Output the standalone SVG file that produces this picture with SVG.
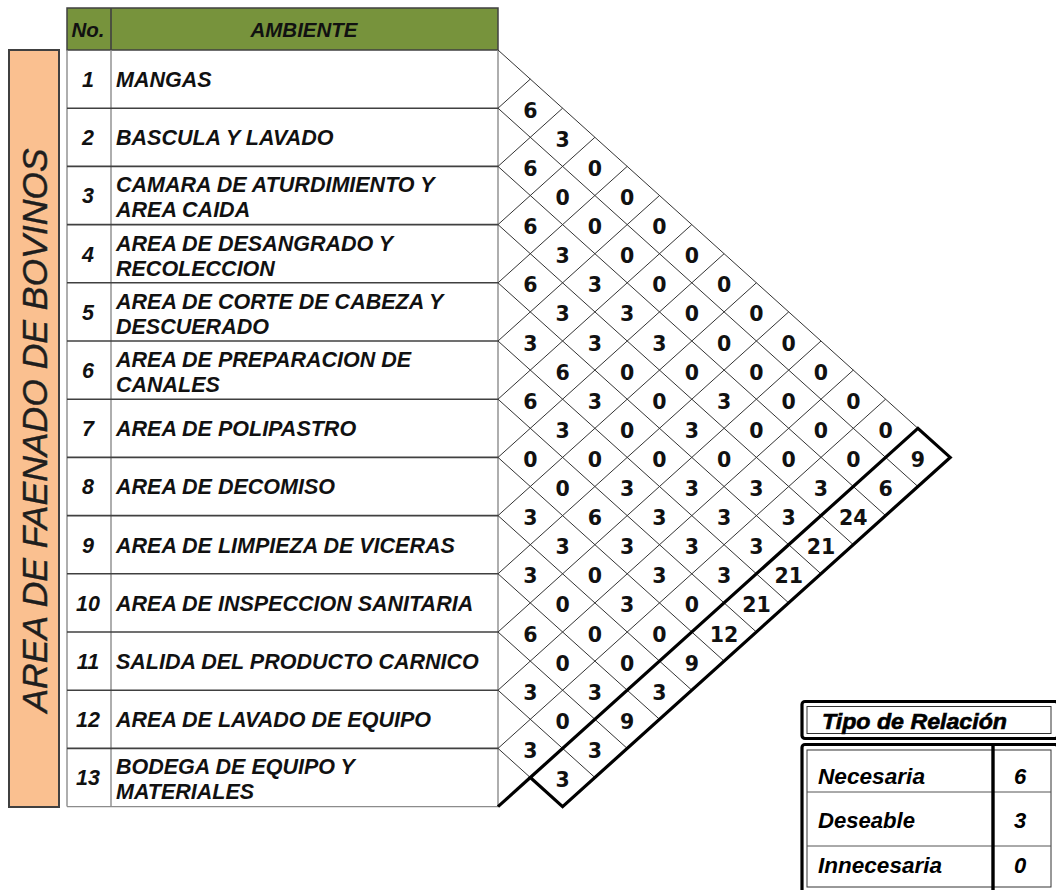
<svg xmlns="http://www.w3.org/2000/svg" width="1056" height="890" viewBox="0 0 1056 890">
<style>
.tx{font-family:"Liberation Sans",Arial,sans-serif;font-weight:bold;font-style:italic;font-size:21.5px;fill:#111}
.no{text-anchor:middle}
.hd{font-family:"Liberation Sans",Arial,sans-serif;font-weight:bold;font-style:italic;font-size:20.5px;fill:#111;text-anchor:middle}
.v{font-family:"DejaVu Sans","Liberation Sans",sans-serif;font-weight:bold;font-size:20.5px;fill:#111;text-anchor:middle}
.hl{stroke:#404040;stroke-width:1.6}
.vl{stroke:#8c8c8c;stroke-width:1.4}
.g{stroke:#333;stroke-width:1;fill:none}
.tk{stroke:#000;stroke-width:3.2;fill:none;stroke-linejoin:miter}
.lg{font-family:"Liberation Sans",Arial,sans-serif;font-weight:bold;font-style:italic;fill:#000}
</style>

<g id="area-label">
<rect x="9" y="50" width="50" height="757" fill="#FAC090" stroke="#404040" stroke-width="2"/>
<text transform="translate(46.5,430.5) rotate(-90)" text-anchor="middle" font-family="'Liberation Sans',Arial,sans-serif" font-style="italic" font-size="35.5" fill="#1e1e1e" stroke="#1e1e1e" stroke-width="0.4">AREA DE FAENADO DE BOVINOS</text>
</g>

<g id="table-header">
<rect x="67" y="8" width="431" height="42" fill="#77933C" stroke="#404040" stroke-width="1.5"/>
<line x1="111" y1="8" x2="111" y2="50" class="hl"/>
<text x="88" y="36.5" class="hd">No.</text>
<text x="304" y="36.5" class="hd">AMBIENTE</text>
</g>

<g id="table-frame">
<line x1="67" y1="50" x2="67" y2="806.6" class="vl"/>
<line x1="111" y1="50" x2="111" y2="806.6" class="vl"/>
<line x1="498" y1="50" x2="498" y2="806.6" class="vl"/>
<line x1="67" y1="108.2" x2="498" y2="108.2" class="hl"/>
<line x1="67" y1="166.4" x2="498" y2="166.4" class="hl"/>
<line x1="67" y1="224.6" x2="498" y2="224.6" class="hl"/>
<line x1="67" y1="282.8" x2="498" y2="282.8" class="hl"/>
<line x1="67" y1="341" x2="498" y2="341" class="hl"/>
<line x1="67" y1="399.2" x2="498" y2="399.2" class="hl"/>
<line x1="67" y1="457.4" x2="498" y2="457.4" class="hl"/>
<line x1="67" y1="515.6" x2="498" y2="515.6" class="hl"/>
<line x1="67" y1="573.8" x2="498" y2="573.8" class="hl"/>
<line x1="67" y1="632" x2="498" y2="632" class="hl"/>
<line x1="67" y1="690.2" x2="498" y2="690.2" class="hl"/>
<line x1="67" y1="748.4" x2="498" y2="748.4" class="hl"/>
<line x1="67" y1="806.6" x2="498" y2="806.6" class="vl"/>
</g>

<g id="row-1"><text x="88" y="87" class="tx no">1</text><text x="116" y="87" class="tx">MANGAS</text></g>
<g id="row-2"><text x="88" y="145.2" class="tx no">2</text><text x="116" y="145.2" class="tx">BASCULA Y LAVADO</text></g>
<g id="row-3"><text x="88" y="203.4" class="tx no">3</text><text x="116" y="192.4" class="tx">CAMARA DE ATURDIMIENTO Y</text><text x="116" y="217.4" class="tx">AREA CAIDA</text></g>
<g id="row-4"><text x="88" y="261.6" class="tx no">4</text><text x="116" y="250.6" class="tx">AREA DE DESANGRADO Y</text><text x="116" y="275.6" class="tx">RECOLECCION</text></g>
<g id="row-5"><text x="88" y="319.8" class="tx no">5</text><text x="116" y="308.8" class="tx">AREA DE CORTE DE CABEZA Y</text><text x="116" y="333.8" class="tx">DESCUERADO</text></g>
<g id="row-6"><text x="88" y="378" class="tx no">6</text><text x="116" y="367" class="tx">AREA DE PREPARACION DE</text><text x="116" y="392" class="tx">CANALES</text></g>
<g id="row-7"><text x="88" y="436.2" class="tx no">7</text><text x="116" y="436.2" class="tx">AREA DE POLIPASTRO</text></g>
<g id="row-8"><text x="88" y="494.4" class="tx no">8</text><text x="116" y="494.4" class="tx">AREA DE DECOMISO</text></g>
<g id="row-9"><text x="88" y="552.6" class="tx no">9</text><text x="116" y="552.6" class="tx">AREA DE LIMPIEZA DE VICERAS</text></g>
<g id="row-10"><text x="88" y="610.8" class="tx no">10</text><text x="116" y="610.8" class="tx">AREA DE INSPECCION SANITARIA</text></g>
<g id="row-11"><text x="88" y="669" class="tx no">11</text><text x="116" y="669" class="tx">SALIDA DEL PRODUCTO CARNICO</text></g>
<g id="row-12"><text x="88" y="727.2" class="tx no">12</text><text x="116" y="727.2" class="tx">AREA DE LAVADO DE EQUIPO</text></g>
<g id="row-13"><text x="88" y="785.4" class="tx no">13</text><text x="116" y="774.4" class="tx">BODEGA DE EQUIPO Y</text><text x="116" y="799.4" class="tx">MATERIALES</text></g>

<g id="connectors">
<g id="grid-down">
<line x1="498" y1="50" x2="917.9" y2="428.3" class="g"/>
<line x1="498" y1="108.2" x2="917.9" y2="486.5" class="g"/>
<line x1="498" y1="166.4" x2="885.6" y2="515.6" class="g"/>
<line x1="498" y1="224.6" x2="853.3" y2="544.7" class="g"/>
<line x1="498" y1="282.8" x2="821" y2="573.8" class="g"/>
<line x1="498" y1="341" x2="788.7" y2="602.9" class="g"/>
<line x1="498" y1="399.2" x2="756.4" y2="632" class="g"/>
<line x1="498" y1="457.4" x2="724.1" y2="661.1" class="g"/>
<line x1="498" y1="515.6" x2="691.8" y2="690.2" class="g"/>
<line x1="498" y1="573.8" x2="659.5" y2="719.3" class="g"/>
<line x1="498" y1="632" x2="627.2" y2="748.4" class="g"/>
<line x1="498" y1="690.2" x2="594.9" y2="777.5" class="g"/>
<line x1="498" y1="748.4" x2="530.3" y2="777.5" class="g"/>
</g>
<g id="grid-up">
<line x1="498" y1="108.2" x2="530.3" y2="79.1" class="g"/>
<line x1="498" y1="166.4" x2="562.6" y2="108.2" class="g"/>
<line x1="498" y1="224.6" x2="594.9" y2="137.3" class="g"/>
<line x1="498" y1="282.8" x2="627.2" y2="166.4" class="g"/>
<line x1="498" y1="341" x2="659.5" y2="195.5" class="g"/>
<line x1="498" y1="399.2" x2="691.8" y2="224.6" class="g"/>
<line x1="498" y1="457.4" x2="724.1" y2="253.7" class="g"/>
<line x1="498" y1="515.6" x2="756.4" y2="282.8" class="g"/>
<line x1="498" y1="573.8" x2="788.7" y2="311.9" class="g"/>
<line x1="498" y1="632" x2="821" y2="341" class="g"/>
<line x1="498" y1="690.2" x2="853.3" y2="370.1" class="g"/>
<line x1="498" y1="748.4" x2="885.6" y2="399.2" class="g"/>
</g>
<g id="total-strip">
<polygon points="530.3,777.5 917.9,428.3 950.2,457.4 562.6,806.6" class="tk"/>
<line x1="498" y1="806.6" x2="530.3" y2="777.5" class="tk"/>
</g>
</g>

<g id="matrix-values">
<text x="530.3" y="117.7" class="v">6</text>
<text x="562.6" y="146.8" class="v">3</text>
<text x="530.3" y="175.9" class="v">6</text><text x="594.9" y="175.9" class="v">0</text>
<text x="562.6" y="205" class="v">0</text><text x="627.2" y="205" class="v">0</text>
<text x="530.3" y="234.1" class="v">6</text><text x="594.9" y="234.1" class="v">0</text><text x="659.5" y="234.1" class="v">0</text>
<text x="562.6" y="263.2" class="v">3</text><text x="627.2" y="263.2" class="v">0</text><text x="691.8" y="263.2" class="v">0</text>
<text x="530.3" y="292.3" class="v">6</text><text x="594.9" y="292.3" class="v">3</text><text x="659.5" y="292.3" class="v">0</text><text x="724.1" y="292.3" class="v">0</text>
<text x="562.6" y="321.4" class="v">3</text><text x="627.2" y="321.4" class="v">3</text><text x="691.8" y="321.4" class="v">0</text><text x="756.4" y="321.4" class="v">0</text>
<text x="530.3" y="350.5" class="v">3</text><text x="594.9" y="350.5" class="v">3</text><text x="659.5" y="350.5" class="v">3</text><text x="724.1" y="350.5" class="v">0</text><text x="788.7" y="350.5" class="v">0</text>
<text x="562.6" y="379.6" class="v">6</text><text x="627.2" y="379.6" class="v">0</text><text x="691.8" y="379.6" class="v">0</text><text x="756.4" y="379.6" class="v">0</text><text x="821" y="379.6" class="v">0</text>
<text x="530.3" y="408.7" class="v">6</text><text x="594.9" y="408.7" class="v">3</text><text x="659.5" y="408.7" class="v">0</text><text x="724.1" y="408.7" class="v">3</text><text x="788.7" y="408.7" class="v">0</text><text x="853.3" y="408.7" class="v">0</text>
<text x="562.6" y="437.8" class="v">3</text><text x="627.2" y="437.8" class="v">0</text><text x="691.8" y="437.8" class="v">3</text><text x="756.4" y="437.8" class="v">0</text><text x="821" y="437.8" class="v">0</text><text x="885.6" y="437.8" class="v">0</text>
<text x="530.3" y="466.9" class="v">0</text><text x="594.9" y="466.9" class="v">0</text><text x="659.5" y="466.9" class="v">0</text><text x="724.1" y="466.9" class="v">0</text><text x="788.7" y="466.9" class="v">0</text><text x="853.3" y="466.9" class="v">0</text>
<text x="562.6" y="496" class="v">0</text><text x="627.2" y="496" class="v">3</text><text x="691.8" y="496" class="v">3</text><text x="756.4" y="496" class="v">3</text><text x="821" y="496" class="v">3</text>
<text x="530.3" y="525.1" class="v">3</text><text x="594.9" y="525.1" class="v">6</text><text x="659.5" y="525.1" class="v">3</text><text x="724.1" y="525.1" class="v">3</text><text x="788.7" y="525.1" class="v">3</text>
<text x="562.6" y="554.2" class="v">3</text><text x="627.2" y="554.2" class="v">3</text><text x="691.8" y="554.2" class="v">3</text><text x="756.4" y="554.2" class="v">3</text>
<text x="530.3" y="583.3" class="v">3</text><text x="594.9" y="583.3" class="v">0</text><text x="659.5" y="583.3" class="v">3</text><text x="724.1" y="583.3" class="v">3</text>
<text x="562.6" y="612.4" class="v">0</text><text x="627.2" y="612.4" class="v">3</text><text x="691.8" y="612.4" class="v">0</text>
<text x="530.3" y="641.5" class="v">6</text><text x="594.9" y="641.5" class="v">0</text><text x="659.5" y="641.5" class="v">0</text>
<text x="562.6" y="670.6" class="v">0</text><text x="627.2" y="670.6" class="v">0</text>
<text x="530.3" y="699.7" class="v">3</text><text x="594.9" y="699.7" class="v">3</text>
<text x="562.6" y="728.8" class="v">0</text>
<text x="530.3" y="757.9" class="v">3</text>
</g>

<g id="totals">
<text x="917.9" y="466.9" class="v">9</text>
<text x="885.6" y="496" class="v">6</text>
<text x="853.3" y="525.1" class="v">24</text>
<text x="821" y="554.2" class="v">21</text>
<text x="788.7" y="583.3" class="v">21</text>
<text x="756.4" y="612.4" class="v">21</text>
<text x="724.1" y="641.5" class="v">12</text>
<text x="691.8" y="670.6" class="v">9</text>
<text x="659.5" y="699.7" class="v">3</text>
<text x="627.2" y="728.8" class="v">9</text>
<text x="594.9" y="757.9" class="v">3</text>
<text x="562.6" y="787" class="v">3</text>
</g>

<g id="legend-title">
<rect x="802" y="701.5" width="256" height="37" rx="3" fill="#fff" stroke="#000" stroke-width="3.2"/>
<rect x="807" y="706.5" width="244" height="27" fill="none" stroke="#333" stroke-width="1"/>
<text x="822" y="728.5" class="lg" font-size="22" stroke="#000" stroke-width="0.6" textLength="185" lengthAdjust="spacingAndGlyphs">Tipo de Relación</text>
</g>

<g id="legend-table">
<rect x="802" y="744.5" width="256" height="150" rx="3" fill="#fff" stroke="#000" stroke-width="3.2"/>
<rect x="807" y="750" width="244" height="137" fill="none" stroke="#333" stroke-width="1"/>
<line x1="807" y1="792" x2="1051" y2="792" stroke="#555" stroke-width="1"/>
<line x1="807" y1="846" x2="1051" y2="846" stroke="#555" stroke-width="1"/>
<line x1="993" y1="744.5" x2="993" y2="890" stroke="#000" stroke-width="3.4"/>
<text x="818" y="783.5" class="lg" font-size="22" textLength="107" lengthAdjust="spacingAndGlyphs">Necesaria</text>
<text x="818" y="827.5" class="lg" font-size="22" textLength="97" lengthAdjust="spacingAndGlyphs">Deseable</text>
<text x="818" y="872.5" class="lg" font-size="22" textLength="124" lengthAdjust="spacingAndGlyphs">Innecesaria</text>
<text x="1020" y="783.5" class="lg" font-size="22" text-anchor="middle">6</text>
<text x="1020" y="827.5" class="lg" font-size="22" text-anchor="middle">3</text>
<text x="1020" y="872.5" class="lg" font-size="22" text-anchor="middle">0</text>
</g>
</svg>
